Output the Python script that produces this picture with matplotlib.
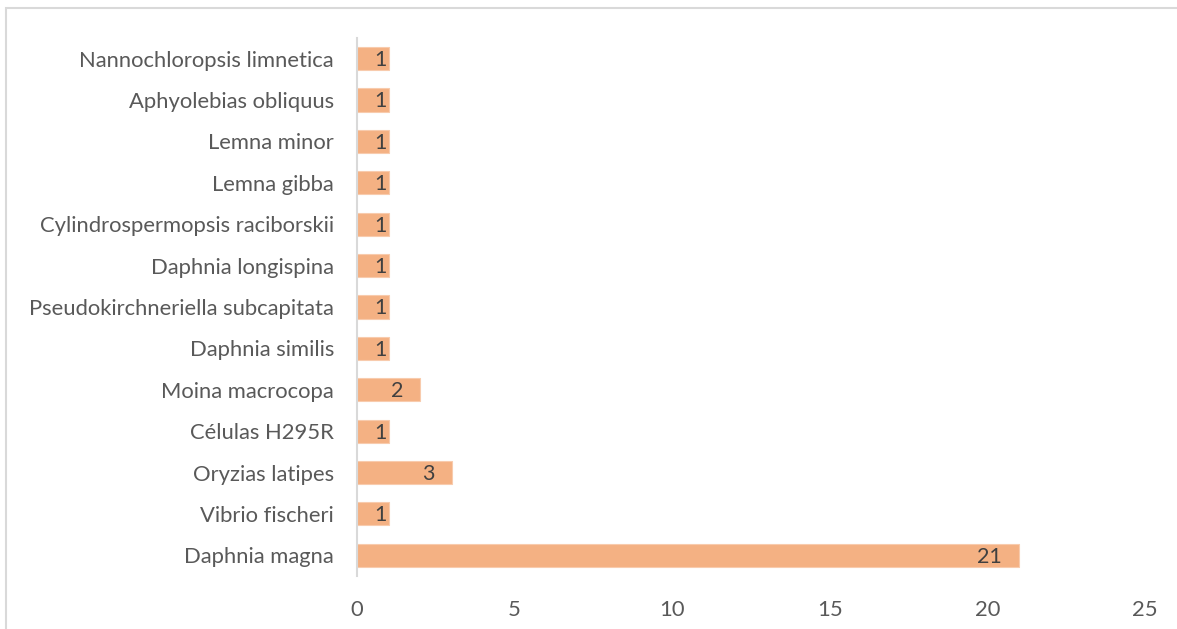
import matplotlib.pyplot as plt
from matplotlib.patches import Rectangle

# data (bottom to top)
species = ['Daphnia magna', 'Vibrio fischeri', 'Oryzias latipes', 'Células H295R',
           'Moina macrocopa', 'Daphnia similis', 'Pseudokirchneriella subcapitata',
           'Daphnia longispina', 'Cylindrospermopsis raciborskii', 'Lemna gibba',
           'Lemna minor', 'Aphyolebias obliquus', 'Nannochloropsis limnetica']
counts = [21, 1, 3, 1, 2, 1, 1, 1, 1, 1, 1, 1, 1]
xticks = [0, 5, 10, 15, 20, 25]

plt.rcParams['font.family'] = ['Lato', 'DejaVu Sans']

fig = plt.figure(figsize=(11.77, 6.29), dpi=100)
ax = fig.add_axes([0.3033, 0.0843, 0.6695, 0.8553])

bars = ax.barh(range(len(species)), counts, height=0.56, color='#F4B183',
               edgecolor='#F8CBAD', linewidth=0.8)

# value labels at the inside end of each bar
for i, c in enumerate(counts):
    off = -1.5 if c == 1 else -12
    ax.annotate(str(c), (c, i), xytext=(off, -1), textcoords='offset points',
                ha='right', va='center', fontsize=15.5, color='#404040')

ax.set_xlim(0, 25)
ax.set_ylim(-0.5, len(species) - 0.5)
ax.set_xticks(xticks)
ax.set_yticks(range(len(species)))
ax.set_yticklabels(species)
ax.tick_params(axis='both', length=0, labelsize=15.8, labelcolor='#595959')
ax.tick_params(axis='y', pad=16.5)
ax.tick_params(axis='x', pad=17)

for s in ['top', 'right', 'bottom']:
    ax.spines[s].set_visible(False)
ax.spines['left'].set_color('#D9D9D9')
ax.spines['left'].set_linewidth(1.5)

# outer chart frame (cropped on right and bottom)
fig.patches.append(Rectangle((6 / 1177, -0.1), 1.2, 1 - 8 / 629 + 0.1,
                             transform=fig.transFigure, fill=False,
                             edgecolor='#D9D9D9', linewidth=1.5))

fig.savefig('out.png', dpi=100)
